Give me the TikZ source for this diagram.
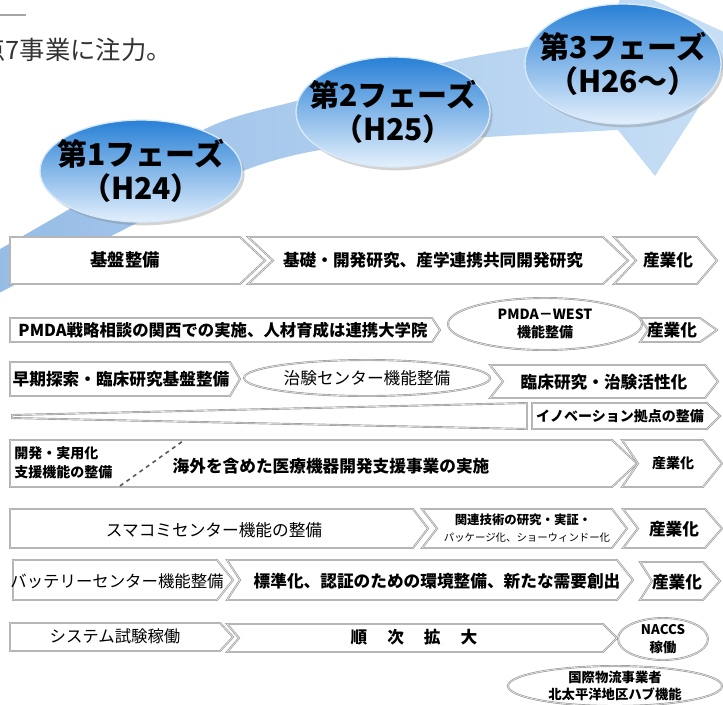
\documentclass[tikz,border=0pt]{standalone}
\usepackage{fontspec}
\setmainfont{Noto Sans CJK JP}
\usepackage{tikz}
\usetikzlibrary{shapes.geometric,shadows}

\definecolor{bandA}{RGB}{150,188,230}
\definecolor{bandB}{RGB}{200,224,246}
\definecolor{phTop}{RGB}{40,128,214}
\definecolor{phMid}{RGB}{125,185,238}
\definecolor{phBot}{RGB}{228,240,252}

% row boxes: left x, right x, top y, bottom y, tip depth (, notch depth)
\newcommand{\firstbox}[5]{\draw[rowline] (#1,#3) -- (#2,#3) -- ({#2+#5},{(#3+#4)/2}) -- (#2,#4) -- (#1,#4) -- cycle;}
\newcommand{\nextbox}[6]{\draw[rowline] (#1,#3) -- (#2,#3) -- ({#2+#5},{(#3+#4)/2}) -- (#2,#4) -- (#1,#4) -- ({#1+#6},{(#3+#4)/2}) -- cycle;}

\tikzset{
  rowline/.style={draw=gray!80, double=gray!15, double distance=0.45pt, line width=0.5pt, fill=white},
  rowtext/.style={font=\bfseries\fontsize{12.5}{15}\selectfont, inner sep=0pt, align=center},
  smalltext/.style={font=\bfseries\fontsize{9.5}{11.5}\selectfont, inner sep=0pt, align=center},
  oval/.style={ellipse, draw=gray!80, double=gray!15, double distance=0.45pt, line width=0.5pt, fill=white, inner sep=0pt, align=center},
  phase/.style={ellipse, draw=white!70!phMid, line width=1pt, top color=phTop, middle color=phMid, bottom color=phBot,
    drop shadow={opacity=0.35, shadow xshift=2pt, shadow yshift=-2.5pt}, inner sep=0pt},
  phasetext/.style={font=\bfseries\fontsize{22.5}{26}\selectfont, align=center, inner sep=0pt},
}

\begin{document}
\begin{tikzpicture}[x=0.75pt, y=-0.75pt]
\useasboundingbox (0,0) rectangle (723,704);

% heading
\draw[gray!70, line width=2pt] (0,15) -- (26,15);
\node[anchor=east, inner sep=0pt, text=black!80, font=\fontsize{19}{22}\selectfont] (head) at (172,50) {重点7事業に注力。};

% big arrow band
\shade[left color=bandA, right color=bandB]
  plot[smooth] coordinates {(-5,295) (123,230) (240,172) (333,148) (487,137) (618,130)}
  -- (655,176) -- (742,40) -- (620,-15)
  -- plot[smooth] coordinates {(618,28) (537,45) (447,62) (300,100) (207,128) (73,207) (-5,252)}
  -- cycle;

% phases
\node[phase, minimum width=151.5pt, minimum height=76.5pt] (ph1) at (141,171) {};
\node[phase, minimum width=145.5pt, minimum height=82.5pt] (ph2) at (393,112) {};
\node[phase, minimum width=147pt, minimum height=90pt] (ph3) at (623,64) {};
\node[phasetext] (ph1t) at (ph1) {第1フェーズ\\（H24）};
\node[phasetext] (ph2t) at (ph2) {第2フェーズ\\（H25）};
\node[phasetext] (ph3t) at (ph3) {第3フェーズ\\（H26～）};

% row 1
\firstbox{10}{240}{237}{284}{25}
\nextbox{248}{603}{237}{284}{25}{25}
\nextbox{614}{697}{237}{284}{20}{22}
\node[rowtext, font=\bfseries\fontsize{13}{15}\selectfont] (kiban) at (125,260) {基盤整備};
\node[rowtext] (kenkyu) at (433,260) {基礎・開発研究、産学連携共同開発研究};
\node[rowtext] (sangyo1) at (668,260) {産業化};

% row 2
\firstbox{10}{432}{318}{342}{8}
\nextbox{640}{700}{318}{342}{17}{8}
\node[oval, minimum width=145.5pt, minimum height=39pt] (west) at (545,324) {};
\node[rowtext, font=\bfseries\fontsize{12.3}{15}\selectfont] (pmda) at (223,330) {PMDA戦略相談の関西での実施、人材育成は連携大学院};
\node[smalltext, font=\bfseries\fontsize{10.5}{14}\selectfont] at (west) {PMDA－WEST\\機能整備};
\node[rowtext] (sangyo2) at (672,330) {産業化};

% row 3
\firstbox{10}{230}{362}{396}{10}
\nextbox{490}{705}{365}{398}{13}{13}
\node[oval, minimum width=184.5pt, minimum height=27pt] (chiken) at (367,378) {};
\node[rowtext] (soki) at (121,379) {早期探索・臨床研究基盤整備};
\node[rowtext, font=\fontsize{12.5}{15}\selectfont] at (chiken) {治験センター機能整備};
\node[rowtext] (rinsho) at (604,382) {臨床研究・治験活性化};

% row 4
\draw[rowline] (12,415) -- (527,403) -- (527,429) -- (12,418) -- cycle;
\firstbox{532}{707}{403}{429}{13}
\node[rowtext, font=\bfseries\fontsize{10.5}{12}\selectfont] (innov) at (620,416) {イノベーション拠点の整備};

% row 5
\firstbox{10}{612}{440}{487}{25}
\nextbox{622}{703}{440}{487}{19}{16}
\coordinate (cutA) at (120,486);
\coordinate (cutB) at (183,441);
\draw[dashed, black!65, line width=1.2pt] (cutA) -- (cutB);
\node[smalltext, font=\bfseries\fontsize{10.5}{14}\selectfont, align=left, anchor=west] (shien) at (14,463) {開発・実用化\\支援機能の整備};
\node[rowtext] (kaigai) at (331,466) {海外を含めた医療機器開発支援事業の実施};
\node[rowtext, font=\bfseries\fontsize{10.5}{12}\selectfont] (sangyo5) at (673,463) {産業化};

% row 6
\firstbox{10}{413}{509}{548}{15}
\nextbox{422}{612}{509}{548}{15}{15}
\nextbox{623}{705}{509}{548}{17}{15}
\node[rowtext, font=\fontsize{12.5}{15}\selectfont] (smacomi) at (214,530) {スマコミセンター機能の整備};
\node[smalltext, font=\bfseries\fontsize{9.3}{11}\selectfont] (kanren) at (523,520) {関連技術の研究・実証・};
\node[smalltext, font=\fontsize{7.8}{9}\selectfont] (package) at (527,538) {パッケージ化、ショーウィンドー化};
\node[rowtext] (sangyo6) at (674,529) {産業化};

% row 7
\firstbox{13}{217}{560}{600}{16}
\nextbox{227}{617}{560}{600}{16}{13}
\nextbox{640}{703}{562}{600}{17}{12}
\node[rowtext, font=\fontsize{12.3}{15}\selectfont] (battery) at (117,581) {バッテリーセンター機能整備};
\node[rowtext] (hyojun) at (437,581) {標準化、認証のための環境整備、新たな需要創出};
\node[rowtext] (sangyo7) at (677,582) {産業化};

% row 8
\firstbox{10}{220}{623}{651}{13}
\nextbox{227}{603}{624}{652}{14}{12}
\node[oval, minimum width=67.5pt, minimum height=31.5pt] (naccs) at (663,639) {};
\node[oval, minimum width=160.5pt, minimum height=30pt] (hub) at (615,686) {};
\node[rowtext, font=\fontsize{12.3}{15}\selectfont] (shiken) at (115,636) {システム試験稼働};
\node[rowtext] (kakudai) at (414,637) {順\hspace{1.2em}次\hspace{1.2em}拡\hspace{1.2em}大};
\node[smalltext, font=\bfseries\fontsize{10}{13}\selectfont] at (naccs) {NACCS\\稼働};
\node[smalltext, font=\bfseries\fontsize{10}{12.5}\selectfont] at (hub) {国際物流事業者\\北太平洋地区ハブ機能};

\end{tikzpicture}
\end{document}
